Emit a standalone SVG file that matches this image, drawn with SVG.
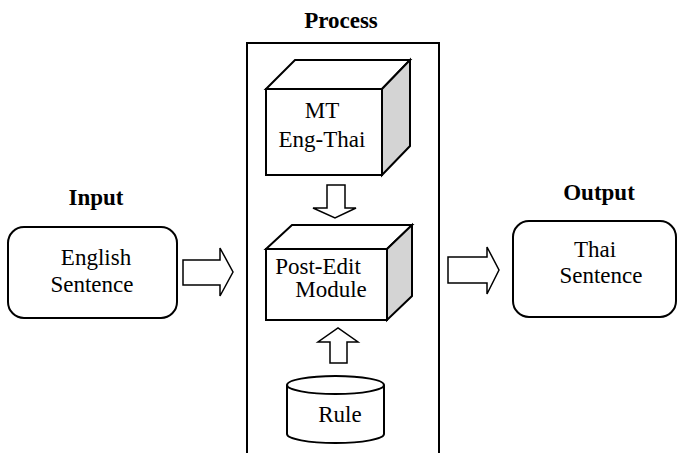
<svg xmlns="http://www.w3.org/2000/svg" width="678" height="453" viewBox="0 0 678 453">
<style>
.w{fill:#fff;stroke:#000;stroke-width:2;stroke-linejoin:miter}
.g{fill:#d4d4d4;stroke:#000;stroke-width:2}
.a{fill:#fff;stroke:#000;stroke-width:1.5}
text{font-family:"Liberation Serif","Times New Roman","DejaVu Serif",serif;fill:#000;text-anchor:middle}
.t{font-size:23px}
.b{font-size:23px;font-weight:bold}
</style>
<rect width="678" height="453" fill="#fff"/>
<g id="process">
<rect x="247" y="43" width="192" height="412" class="w"/>
<text x="341" y="28" class="b">Process</text>
</g>
<g id="input">
<text x="96" y="205" class="b">Input</text>
<rect x="8" y="227" width="169" height="91" rx="16" class="w"/>
<text x="96" y="265" class="t">English</text>
<text x="92" y="292" class="t">Sentence</text>
</g>
<g id="output">
<text x="599" y="200" class="b">Output</text>
<rect x="513" y="221" width="163" height="96" rx="16" class="w"/>
<text x="595" y="257" class="t">Thai</text>
<text x="601" y="283" class="t">Sentence</text>
</g>
<g id="mt">
<polygon points="266,89 295,60 410,60 382,89" class="w"/>
<polygon points="382,89 410,60 410,146 382,175" class="g"/>
<rect x="266" y="89" width="116" height="86" class="w"/>
<text x="322" y="118" class="t">MT</text>
<text x="322" y="147" class="t">Eng-Thai</text>
</g>
<g id="postedit">
<polygon points="266,249 292,225 412,225 387,249" class="w"/>
<polygon points="387,249 412,225 412,296 387,320" class="g"/>
<rect x="266" y="249" width="121" height="71" class="w"/>
<text x="318" y="274" class="t" font-size="22">Post-Edit</text>
<text x="331" y="297" class="t" font-size="22">Module</text>
</g>
<g id="rule">
<path d="M287,385 L287,434 A48.5,9 0 0 0 384,434 L384,385" class="w"/>
<ellipse cx="335.5" cy="385" rx="48.5" ry="9" class="w"/>
<text x="340" y="422" class="t">Rule</text>
</g>
<g id="connectors">
<polygon points="183,260 220,260 220,248 233,272 220,296 220,285 183,285" class="a"/>
<polygon points="448,257 487,257 487,247 499,270 487,294 487,283 448,283" class="a"/>
<polygon points="327,185 345,185 345,208 356,208 335,218 313,208 327,208" class="a"/>
<polygon points="330,363 347,363 347,342 358,342 338,328 318,342 330,342" class="a"/>
</g>
</svg>
